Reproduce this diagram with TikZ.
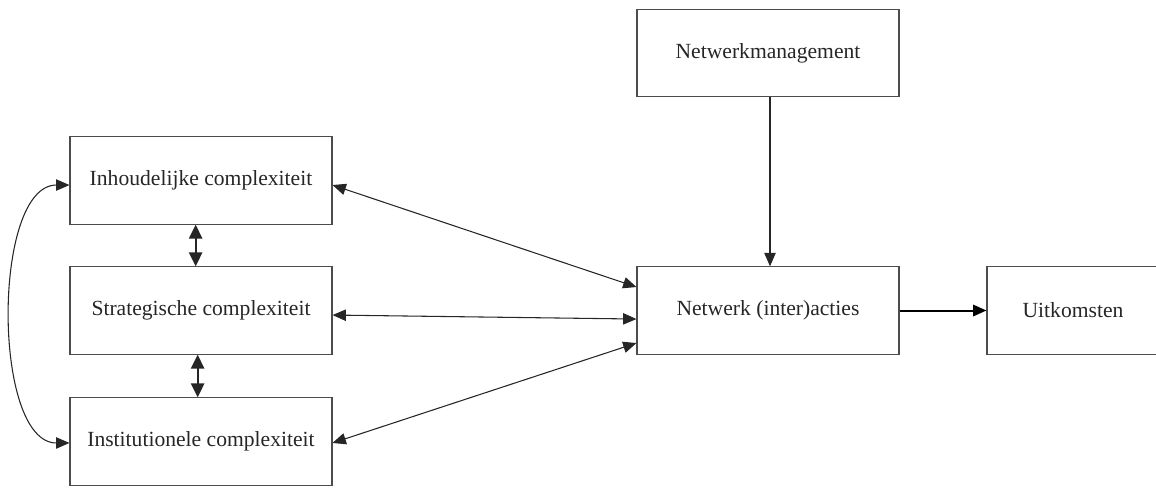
\documentclass[tikz,border=0pt]{standalone}
\usepackage{fontspec}
\setmainfont{Liberation Serif}
\usetikzlibrary{arrows.meta}
\tikzset{
  box/.style={draw=black!70, line width=0.8pt, minimum width=196.5pt, minimum height=65.5pt, inner sep=0pt, font=\fontsize{16.2pt}{19pt}\selectfont, text=black!85},
  tip/.style={-{Triangle[length=10pt,width=8.5pt]}},
  dtip/.style={{Triangle[length=10pt,width=8.5pt]}-{Triangle[length=10pt,width=8.5pt]}},
  vtip/.style={{Triangle[length=10.5pt,width=10pt]}-{Triangle[length=10.5pt,width=10pt]}},
  conn/.style={draw=black!85, line width=0.8pt},
  thick conn/.style={draw=black, line width=1.5pt}
}
\begin{document}
\begin{tikzpicture}[x=0.75pt,y=-0.75pt]
\clip (0,0) rectangle (1156,487);
\useasboundingbox (0,0) rectangle (1156,487);
\node[box] (mgmt) at (768,53) {Netwerkmanagement};
\node[box] (inh) at (201,180.5) {Inhoudelijke complexiteit};
\node[box] (str) at (201,310.5) {Strategische complexiteit};
\node[box] (ins) at (201,441.5) {Institutionele complexiteit};
\node[box] (net) at (768,310.5) {Netwerk (inter)acties};
\node[box, minimum width=129pt] (uit) at (1073,310.5) {Uitkomsten};
% vertical double arrows
\draw[conn, vtip, line width=1.3pt] ([xshift=-4pt]inh.south) -- ([xshift=-4pt]str.north);
\draw[conn, vtip, line width=1.3pt] ([xshift=-2.5pt]str.south) -- ([xshift=-2.5pt]ins.north);
% left curve
\draw[conn, dtip] ([yshift=-3.4pt]inh.west) .. controls (-8,185) and (-8,443) .. ([yshift=-1.1pt]ins.west);
% to network
\draw[conn, dtip] ([yshift=-3.4pt]inh.east) -- ([yshift=17.6pt]net.west);
\draw[conn, dtip] ([yshift=-3.4pt]str.east) -- ([yshift=-6.4pt]net.west);
\draw[conn, dtip] ([yshift=-1.1pt]ins.east) -- ([yshift=-24.4pt]net.west);
% management to network
\draw[conn, tip] ([xshift=1.5pt]mgmt.south) -- ([xshift=1.5pt]net.north);
% network to outcomes
\draw[thick conn, tip] (net.east) -- (uit.west);
\end{tikzpicture}
\end{document}
